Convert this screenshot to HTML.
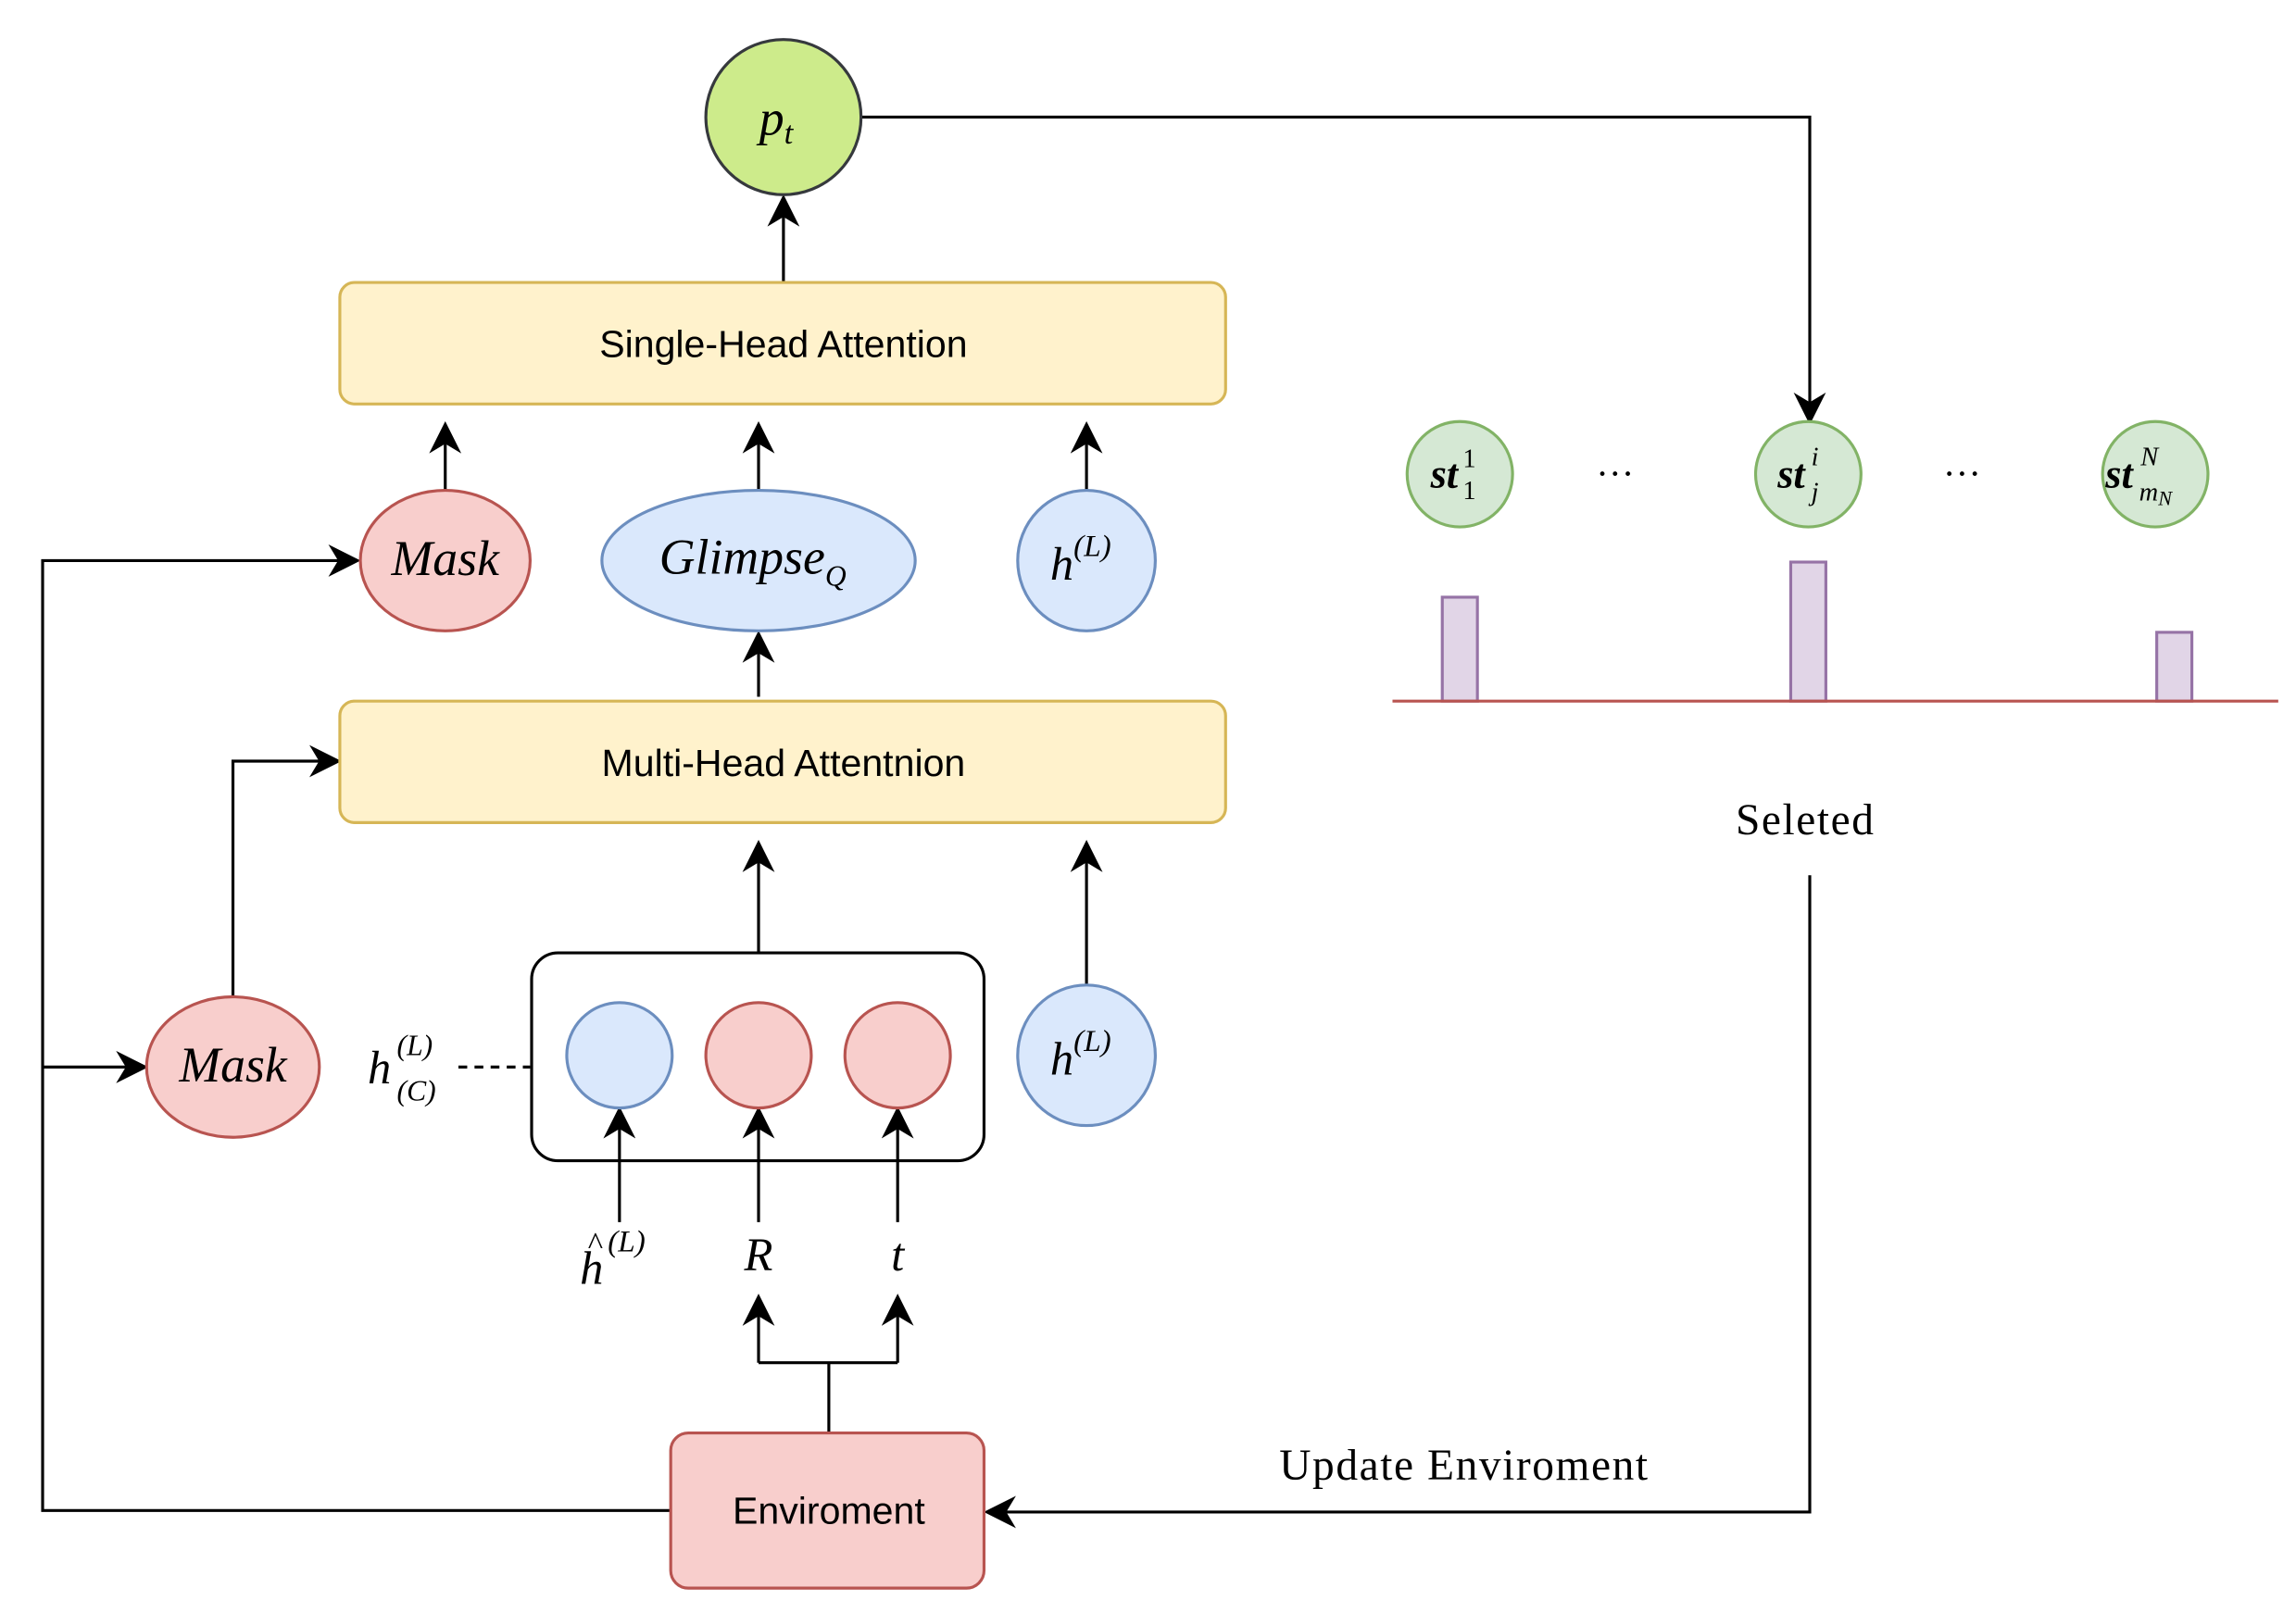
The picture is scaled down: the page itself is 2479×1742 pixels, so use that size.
<!DOCTYPE html>
<html><head><meta charset="utf-8"><style>
html,body{margin:0;padding:0;background:#fff}
svg{display:block}
.s{font-family:"Liberation Sans",sans-serif;font-size:26px}
.m{font-family:"Liberation Serif",serif;font-style:italic}
.r{font-family:"Liberation Serif",serif;font-size:30px;letter-spacing:1px}
</style></head><body>
<svg width="2479" height="1742" viewBox="0 0 1568 1102" xmlns="http://www.w3.org/2000/svg">
<defs>
<marker id="b" viewBox="0 0 10 10" refX="9" refY="5" markerWidth="22" markerHeight="22" orient="auto" markerUnits="userSpaceOnUse"><path d="M0,0 L10,5 L0,10 L3,5 z" fill="#000"/></marker></defs>
<g fill="none" stroke="#000" stroke-width="2">
<path d="M588,80 H1236 V288" marker-end="url(#b)"/>
<path d="M535,192 V135" marker-end="url(#b)"/>
<path d="M304,336 V290" marker-end="url(#b)"/>
<path d="M518,336 V290" marker-end="url(#b)"/>
<path d="M742,336 V290" marker-end="url(#b)"/>
<path d="M518,476 V433" marker-end="url(#b)"/>
<path d="M458,1032 H29 V383 H244" marker-end="url(#b)"/>
<path d="M29,729 H99" marker-end="url(#b)"/>
<path d="M159,681 V520 H231" marker-end="url(#b)"/>
<path d="M518,651 V576" marker-end="url(#b)"/>
<path d="M742,673 V576" marker-end="url(#b)"/>
<path d="M423,835 V758" marker-end="url(#b)"/>
<path d="M518,835 V758" marker-end="url(#b)"/>
<path d="M613,835 V758" marker-end="url(#b)"/>
<path d="M566,978 V931 M518,931 H613"/>
<path d="M518,931 V886" marker-end="url(#b)"/>
<path d="M613,931 V886" marker-end="url(#b)"/>
<path d="M1236,598 V1033 H674" marker-end="url(#b)"/>
<path d="M313,729 H362" stroke-dasharray="6,5"/>
</g>
<circle cx="535" cy="80" r="53" fill="#cdeb8b" stroke="#36393d" stroke-width="2"/>
<text x="530" y="92" class="m" font-size="34" text-anchor="middle">p<tspan font-size="22" dy="6">t</tspan></text>
<rect x="232" y="193" width="605" height="83" rx="10" fill="#fff2cc" stroke="#d6b656" stroke-width="2"/>
<text x="535" y="244" class="s" text-anchor="middle">Single-Head Attention</text>
<rect x="232" y="479" width="605" height="83" rx="10" fill="#fff2cc" stroke="#d6b656" stroke-width="2"/>
<text x="535" y="530" class="s" text-anchor="middle">Multi-Head Attentnion</text>
<ellipse cx="304" cy="383" rx="58" ry="48" fill="#f8cecc" stroke="#b85450" stroke-width="2"/>
<text x="304" y="393" class="m" font-size="34" text-anchor="middle">Mask</text>
<ellipse cx="518" cy="383" rx="107" ry="48" fill="#dae8fc" stroke="#6c8ebf" stroke-width="2"/>
<text x="514" y="392" class="m" font-size="34" text-anchor="middle">Glimpse<tspan font-size="20" dy="8">Q</tspan></text>
<ellipse cx="742" cy="383" rx="47" ry="48" fill="#dae8fc" stroke="#6c8ebf" stroke-width="2"/>
<text x="738" y="396" class="m" font-size="32" text-anchor="middle">h<tspan font-size="21" dy="-16">(L)</tspan></text>
<ellipse cx="159" cy="729" rx="59" ry="48" fill="#f8cecc" stroke="#b85450" stroke-width="2"/>
<text x="159" y="739" class="m" font-size="34" text-anchor="middle">Mask</text>
<text x="251" y="740" class="m" font-size="32">h</text>
<text x="271" y="721" class="m" font-size="20">(L)</text>
<text x="271" y="752" class="m" font-size="20">(C)</text>
<rect x="363" y="651" width="309" height="142" rx="18" fill="none" stroke="#000" stroke-width="2"/>
<circle cx="423" cy="721" r="36" fill="#dae8fc" stroke="#6c8ebf" stroke-width="2"/>
<circle cx="518" cy="721" r="36" fill="#f8cecc" stroke="#b85450" stroke-width="2"/>
<circle cx="613" cy="721" r="36" fill="#f8cecc" stroke="#b85450" stroke-width="2"/>
<ellipse cx="742" cy="721" rx="47" ry="48" fill="#dae8fc" stroke="#6c8ebf" stroke-width="2"/>
<text x="738" y="734" class="m" font-size="32" text-anchor="middle">h<tspan font-size="21" dy="-16">(L)</tspan></text>
<text x="396" y="877" class="m" font-size="32">h</text>
<text x="401" y="857" class="m" font-size="22">^</text>
<text x="415" y="855" class="m" font-size="21">(L)</text>
<text x="518" y="868" class="m" font-size="32" text-anchor="middle">R</text>
<text x="613" y="868" class="m" font-size="32" text-anchor="middle">t</text>
<rect x="458" y="979" width="214" height="106" rx="12" fill="#f8cecc" stroke="#b85450" stroke-width="2"/>
<text x="566" y="1041" class="s" text-anchor="middle">Enviroment</text>
<text x="1000" y="1011" class="r" text-anchor="middle">Update Enviroment</text>
<text x="1233" y="570" class="r" text-anchor="middle">Seleted</text>
<circle cx="997" cy="324" r="36" fill="#d5e8d4" stroke="#82b366" stroke-width="2"/>
<circle cx="1235" cy="324" r="36" fill="#d5e8d4" stroke="#82b366" stroke-width="2"/>
<circle cx="1472" cy="324" r="36" fill="#d5e8d4" stroke="#82b366" stroke-width="2"/>
<text x="977" y="333" class="m" font-size="28" font-weight="bold">st</text>
<text x="999" y="319" font-family="Liberation Serif" font-size="18">1</text>
<text x="999" y="341" font-family="Liberation Serif" font-size="18">1</text>
<text x="1214" y="333" class="m" font-size="28" font-weight="bold">st</text>
<text x="1237" y="318" class="m" font-size="18">i</text>
<text x="1237" y="342" class="m" font-size="18">j</text>
<text x="1438" y="333" class="m" font-size="28" font-weight="bold">st</text>
<text x="1462" y="318" class="m" font-size="18">N</text>
<text x="1461" y="342" class="m" font-size="18">m<tspan font-size="14" dy="3">N</tspan></text>
<text x="1103" y="325" font-family="Liberation Serif" font-size="26" text-anchor="middle">…</text>
<text x="1340" y="325" font-family="Liberation Serif" font-size="26" text-anchor="middle">…</text>
<rect x="985" y="408" width="24" height="71" fill="#e1d5e7" stroke="#9673a6" stroke-width="2"/>
<rect x="1223" y="384" width="24" height="95" fill="#e1d5e7" stroke="#9673a6" stroke-width="2"/>
<rect x="1473" y="432" width="24" height="47" fill="#e1d5e7" stroke="#9673a6" stroke-width="2"/>
<path d="M951,479 H1556" stroke="#b85450" stroke-width="2"/>
</svg>
</body></html>
